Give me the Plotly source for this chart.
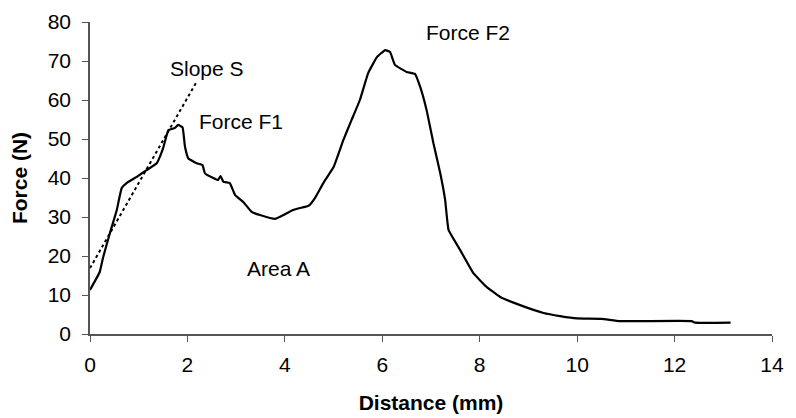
import plotly.graph_objects as go

distance = [0, 0.2, 0.27, 0.41, 0.55, 0.65, 0.75, 0.96, 1.16, 1.37, 1.5, 1.61, 1.74, 1.81, 1.9,
            1.95, 2.02, 2.19, 2.31, 2.36, 2.53, 2.63, 2.68, 2.74, 2.87, 2.98, 3.15, 3.32, 3.49,
            3.8, 3.97, 4.17, 4.41, 4.5, 4.62, 4.79, 5.0, 5.2, 5.37, 5.54, 5.71, 5.89, 6.06, 6.16,
            6.26, 6.5, 6.67, 6.78, 6.91, 7.05, 7.19, 7.29, 7.36, 7.6, 7.87, 8.14, 8.42, 8.83,
            9.31, 9.65, 9.99, 10.5, 10.88, 12.35, 12.42, 13.15]
force = [11.3, 15.9, 19.7, 25.9, 31.8, 37.4, 38.7, 40.3, 42, 43.8, 47.6, 52.3, 52.8, 53.6, 53,
         48, 45, 43.8, 43.3, 41.2, 40, 39.5, 40.5, 39, 38.7, 35.6, 33.8, 31.3, 30.5,
         29.5, 30.5, 31.8, 32.6, 33.0, 34.9, 38.7, 42.8, 49.7, 54.9, 60, 66.9, 71, 72.8, 72.3,
         69, 67.2, 66.7, 63.3, 57.4, 48.9, 41.2, 34.4, 26.7, 21.5, 15.6, 12.1, 9.5, 7.4,
         5.4, 4.6, 4.0, 3.9, 3.3, 3.3, 2.9, 2.9]

slope_x = [0, 2.19]
slope_y = [16.9, 64.7]

labels = ["Slope S", "Force F1", "Area A", "Force F2"]
label_x = [2.4, 3.1, 3.86, 7.76]
label_y = [68.2, 54.4, 16.9, 77.2]

font = "Liberation Sans, Arial, sans-serif"

fig = go.Figure()
fig.add_trace(go.Scatter(x=distance, y=force, mode="lines",
                         line=dict(color="black", width=2.2, shape="spline", smoothing=0.3),
                         showlegend=False))
fig.add_trace(go.Scatter(x=slope_x, y=slope_y, mode="lines",
                         line=dict(color="black", width=2, dash="dot"),
                         showlegend=False))

for t, x, y in zip(labels, label_x, label_y):
    fig.add_annotation(x=x, y=y, text=t, showarrow=False,
                       font=dict(family=font, size=21, color="black"))

# page body has an 8px default margin, so the figure is sized to fit inside it
fig.update_layout(
    width=788, height=410,
    margin=dict(l=82, r=24, t=14, b=84),
    paper_bgcolor="white", plot_bgcolor="white",
    font=dict(family=font, size=21, color="black"),
    xaxis=dict(range=[0, 14], dtick=2, showgrid=False, zeroline=False, automargin=False,
               showline=True, linecolor="#555", linewidth=1.5,
               ticks="outside", ticklen=6, tickcolor="#555", ticklabelstandoff=5,
               title=dict(text="<b>Distance (mm)</b>", font=dict(size=21), standoff=20)),
    yaxis=dict(range=[0, 80], dtick=10, showgrid=False, zeroline=False, automargin=False,
               showline=True, linecolor="#555", linewidth=1.5,
               ticks="outside", ticklen=6, tickcolor="#555", ticklabelstandoff=7,
               title=dict(text="<b>Force (N)</b>", font=dict(size=21), standoff=16)),
)

fig.write_html("out.html")
